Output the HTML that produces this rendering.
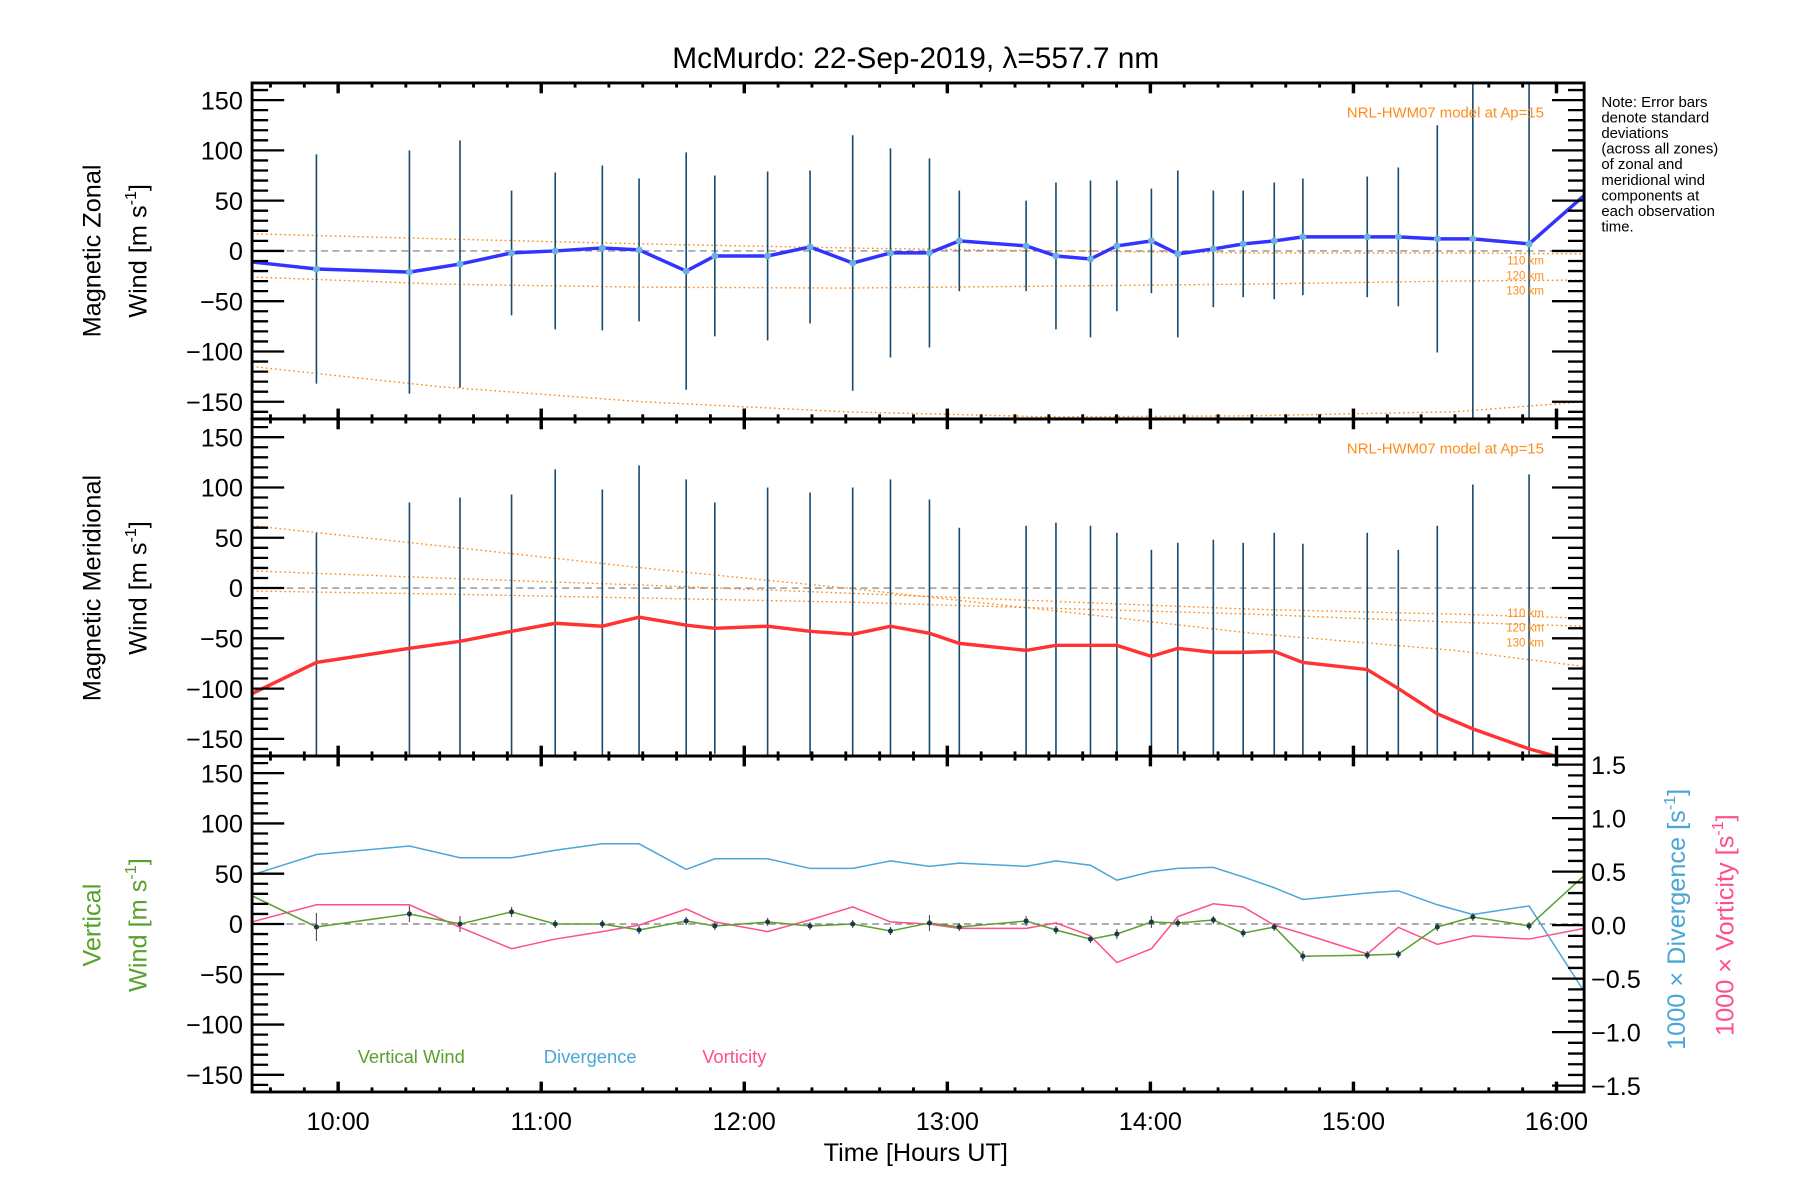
<!DOCTYPE html>
<html><head><meta charset="utf-8"><style>
html,body{margin:0;padding:0;background:#fff;}
svg{display:block;font-family:"Liberation Sans",sans-serif;}
</style></head><body>
<svg id="chart" width="1800" height="1200" viewBox="0.5 0.9 1567.5 1043" preserveAspectRatio="none" xmlns="http://www.w3.org/2000/svg">
<text x="798" y="60" font-size="26" text-anchor="middle">McMurdo: 22-Sep-2019, λ=557.7 nm</text>
<g id="g"></g>
<text font-size="13" x="1395" y="94">
<tspan x="1395" dy="0">Note: Error bars</tspan><tspan x="1395" dy="13.5">denote standard</tspan><tspan x="1395" dy="13.5">deviations</tspan><tspan x="1395" dy="13.5">(across all zones)</tspan><tspan x="1395" dy="13.5">of zonal and</tspan><tspan x="1395" dy="13.5">meridional wind</tspan><tspan x="1395" dy="13.5">components at</tspan><tspan x="1395" dy="13.5">each observation</tspan><tspan x="1395" dy="13.5">time.</tspan></text>
<text x="798" y="1010" font-size="22" text-anchor="middle">Time [Hours UT]</text>
<text transform="translate(88,219) rotate(-90)" font-size="22" text-anchor="middle">Magnetic Zonal</text>
<text transform="translate(128,219) rotate(-90)" font-size="22" text-anchor="middle">Wind [m s<tspan dy="-9" font-size="14">-1</tspan><tspan dy="9">]</tspan></text>
<text transform="translate(88,512) rotate(-90)" font-size="22" text-anchor="middle">Magnetic Meridional</text>
<text transform="translate(128,512) rotate(-90)" font-size="22" text-anchor="middle">Wind [m s<tspan dy="-9" font-size="14">-1</tspan><tspan dy="9">]</tspan></text>
<text transform="translate(88,805) rotate(-90)" font-size="22" text-anchor="middle" fill="#5aa02c">Vertical</text>
<text transform="translate(128,805) rotate(-90)" font-size="22" text-anchor="middle" fill="#5aa02c">Wind [m s<tspan dy="-9" font-size="14">-1</tspan><tspan dy="9">]</tspan></text>
<text transform="translate(1468,800) rotate(-90)" font-size="22" text-anchor="middle" fill="#4ba6d8">1000 × Divergence [s<tspan dy="-9" font-size="14">-1</tspan><tspan dy="9">]</tspan></text>
<text transform="translate(1510,805) rotate(-90)" font-size="22" text-anchor="middle" fill="#ff4f8b">1000 × Vorticity [s<tspan dy="-9" font-size="14">-1</tspan><tspan dy="9">]</tspan></text>
<text x="312" y="925" font-size="16" fill="#5aa02c">Vertical Wind</text>
<text x="474" y="925" font-size="16" fill="#4ba6d8">Divergence</text>
<text x="612" y="925" font-size="16" fill="#ff4f8b">Vorticity</text>
<text x="1345" y="103" font-size="13" fill="#ff8c1a" text-anchor="end">NRL-HWM07 model at Ap=15</text>
<text x="1345" y="395" font-size="13" fill="#ff8c1a" text-anchor="end">NRL-HWM07 model at Ap=15</text>
<g font-size="10" fill="#ff8c1a" text-anchor="end">
<text x="1345" y="231">110 km</text>
<text x="1345" y="244">120 km</text>
<text x="1345" y="257">130 km</text>
<text x="1345" y="537">110 km</text>
<text x="1345" y="550">120 km</text>
<text x="1345" y="563">130 km</text>
</g>
</svg>
<script>
// Observation times (hours UT)
const obsTimes = [9.893,10.351,10.600,10.854,11.069,11.301,11.482,11.714,11.855,12.115,12.324,12.534,12.720,12.912,13.059,13.388,13.535,13.705,13.835,14.005,14.135,14.310,14.457,14.610,14.751,15.068,15.221,15.413,15.588,15.865];
const zonalMean = [-18,-21,-13,-2,0,3,1,-20,-5,-5,4,-12,-2,-2,10,5,-5,-8,5,10,-3,2,7,10,14,14,14,12,12,7];
const zonalSd = [114,121,123,62,78,82,71,118,80,84,76,127,104,94,50,45,73,78,65,52,83,58,53,58,58,60,69,113,200,200];
const zonalStart = -11, zonalEnd = 55;
const meridMean = [-74,-60,-53,-43,-35,-38,-29,-37,-40,-38,-43,-46,-38,-45,-55,-62,-57,-57,-57,-68,-60,-64,-64,-63,-74,-81,-100,-125,-140,-160];
const meridSd = [129,145,143,136,153,136,151,145,125,138,138,146,146,133,115,124,122,119,112,106,105,112,109,118,118,136,138,187,243,273];
const meridStart = -105, meridEnd = -175;
const vertMean = [-3,10,0,12,0,0,-6,3,-2,2,-2,0,-7,1,-3,3,-6,-15,-10,2,1,4,-9,-3,-32,-31,-30,-3,7,-2];
const vertSd = [14,8,8,5,4,4,4,4,4,4,4,4,4,8,4,5,4,4,5,6,4,4,4,4,5,4,4,4,4,4];
const vertStart = 28, vertEnd = 48;
const divergence = [0.66,0.74,0.63,0.63,0.70,0.76,0.76,0.52,0.62,0.62,0.53,0.53,0.60,0.55,0.58,0.55,0.60,0.56,0.42,0.50,0.53,0.54,0.45,0.35,0.24,0.30,0.32,0.19,0.10,0.18];
const divStart = 0.47, divEnd = -0.62;
const vorticity = [0.19,0.19,-0.02,-0.22,-0.13,-0.06,0.0,0.15,0.03,-0.06,0.05,0.17,0.03,0.01,-0.03,-0.03,0.02,-0.10,-0.35,-0.22,0.08,0.20,0.17,0.0,-0.08,-0.27,-0.02,-0.18,-0.10,-0.13];
const vortStart = 0.03, vortEnd = -0.03;
// model curves (hours, value)
const modelHours = [9.576,10.5,11.5,12.5,13.5,14.5,15.5,16.136];
const zonal110 = [17,12,7,3,0,-2,-2,-3];
const zonal120 = [-26,-33,-36,-37,-35,-33,-30,-29];
const zonal130 = [-115,-135,-150,-160,-165,-164,-160,-150];
const merid110 = [62,42,20,0,-22,-45,-62,-78];
const merid120 = [17,10,3,-5,-13,-21,-26,-30];
const merid130 = [-3,-6,-10,-14,-20,-26,-34,-38];
const xTicks = [10,11,12,13,14,15,16];
const xTickLabels = ["10:00","11:00","12:00","13:00","14:00","15:00","16:00"];
const yTicks = [-150,-100,-50,0,50,100,150];
const rTicks = [-1.5,-1.0,-0.5,0.0,0.5,1.0,1.5];

const NS="http://www.w3.org/2000/svg";
const G=document.getElementById('g');
const L=220,R=1380;
const tMin=9.576,tMax=16.136;
const panels=[{top:73,bot:365,z:219},{top:365,bot:658,z:512},{top:658,bot:950,z:804}];
const ppu=0.874;
function X(h){return L+(h-tMin)/(tMax-tMin)*(R-L);}
function Y(p,v){return panels[p].z-v*ppu;}
function YR(v){return 805-v*93;}
function el(tag,attrs,parent){const e=document.createElementNS(NS,tag);for(const k in attrs)e.setAttribute(k,attrs[k]);(parent||G).appendChild(e);return e;}
function clipFor(p){const id='clip'+p;const d=el('clipPath',{id:id});el('rect',{x:L,y:panels[p].top,width:R-L,height:panels[p].bot-panels[p].top},d);return 'url(#'+id+')';}
const clips=[clipFor(0),clipFor(1),clipFor(2)];

function poly(pts,attrs,name,clip){const e=el('polyline',Object.assign({points:pts.map(p=>p[0].toFixed(1)+','+p[1].toFixed(1)).join(' '),fill:'none','clip-path':clip},attrs));


return e;}

for(let p=0;p<3;p++){
  const z=el('line',{x1:L,x2:R,y1:Y(p,0),y2:Y(p,0),stroke:'#777','stroke-dasharray':'6,4','stroke-width':1});
  
  
}
[[0,zonal110],[0,zonal120],[0,zonal130],[1,merid110],[1,merid120],[1,merid130]].forEach(([p,arr])=>{
  poly(modelHours.map((h,i)=>[X(h),Y(p,arr[i])]),{stroke:'#ff8c1a','stroke-width':1.2,'stroke-dasharray':'1.5,2.5'},'model-curve',clips[p]);
});
function errBars(p,mean,sd,color,w,name){
  obsTimes.forEach((h,i)=>{
    const e=el('line',{x1:X(h),x2:X(h),y1:Y(p,mean[i]+sd[i]),y2:Y(p,mean[i]-sd[i]),stroke:color,'stroke-width':w,'clip-path':clips[p]});
    
    
  });
}
errBars(0,zonalMean,zonalSd,'#174a70',1.4,'zonal-error-bar');
errBars(1,meridMean,meridSd,'#174a70',1.4,'meridional-error-bar');
errBars(2,vertMean,vertSd,'#555',1,'vertical-error-bar');
function series(p,mean,s,e,color,w,name){
  const pts=[[L,Y(p,s)]].concat(obsTimes.map((h,i)=>[X(h),Y(p,mean[i])])).concat([[R,Y(p,e)]]);
  poly(pts,{stroke:color,'stroke-width':w},name,clips[p]);
}
series(0,zonalMean,zonalStart,zonalEnd,'#3333ff',3,'zonal-wind-line');
series(1,meridMean,meridStart,meridEnd,'#ff3333',3,'meridional-wind-line');
const dv=[[L,YR(divStart)]].concat(obsTimes.map((h,i)=>[X(h),YR(divergence[i])])).concat([[R,YR(divEnd)]]);
poly(dv,{stroke:'#4ba6d8','stroke-width':1.3},'divergence-line',clips[2]);
const vt=[[L,YR(vortStart)]].concat(obsTimes.map((h,i)=>[X(h),YR(vorticity[i])])).concat([[R,YR(vortEnd)]]);
poly(vt,{stroke:'#ff4f8b','stroke-width':1.3},'vorticity-line',clips[2]);
series(2,vertMean,vertStart,vertEnd,'#5aa02c',1.3,'vertical-wind-line');
obsTimes.forEach((h,i)=>{
  const a=el('circle',{cx:X(h),cy:Y(0,zonalMean[i]),r:3,fill:'#6ab0e0'});
  
  
  const b=el('circle',{cx:X(h),cy:Y(2,vertMean[i]),r:2.2,fill:'#1a3a4a'});
  
  
});
for(let p=0;p<3;p++){
  const P=panels[p];
  const f=el('rect',{x:L,y:P.top,width:R-L,height:P.bot-P.top,fill:'none',stroke:'#000','stroke-width':2.5});
  
  
  for(let v=-160;v<=160;v+=10){
    const y=Y(p,v); if(y<P.top+1||y>P.bot-1)continue;
    const len=(v%50===0)?28:14;
    el('line',{x1:L,x2:L+len,y1:y,y2:y,stroke:'#000','stroke-width':2});
    if(p<2) el('line',{x1:R,x2:R-len,y1:y,y2:y,stroke:'#000','stroke-width':2});
  }
  yTicks.forEach(v=>{
    const t=el('text',{x:L-8,y:Y(p,v)+8,'font-size':22,'text-anchor':'end'});
    t.textContent=(v<0?'\u2212'+(-v):v);
    
    
  });
  for(let m=9*6+4;m<=16*6+1;m++){
    const h=m/6; if(h<tMin||h>tMax)continue;
    const major=(m%6===0); const len=major?9:4;
    el('line',{x1:X(h),x2:X(h),y1:P.bot,y2:P.bot-len,stroke:'#000','stroke-width':major?3:2.5});
    el('line',{x1:X(h),x2:X(h),y1:P.top,y2:P.top+len,stroke:'#000','stroke-width':major?3:2.5});
  }
}
for(let v=-15;v<=15;v++){
  const val=v/10; const y=YR(val); const len=(v%5===0)?28:14;
  el('line',{x1:R,x2:R-len,y1:y,y2:y,stroke:'#000','stroke-width':2});
}
rTicks.forEach(v=>{
  const t=el('text',{x:R+6,y:YR(v)+8,'font-size':22});
  t.textContent=(v<0?'\u2212'+(-v).toFixed(1):v.toFixed(1));
  
  
});
xTicks.forEach((h,i)=>{
  const t=el('text',{x:X(h),y:983,'font-size':22,'text-anchor':'middle'});
  t.textContent=xTickLabels[i];
  
  
});
</script>
</body></html>
